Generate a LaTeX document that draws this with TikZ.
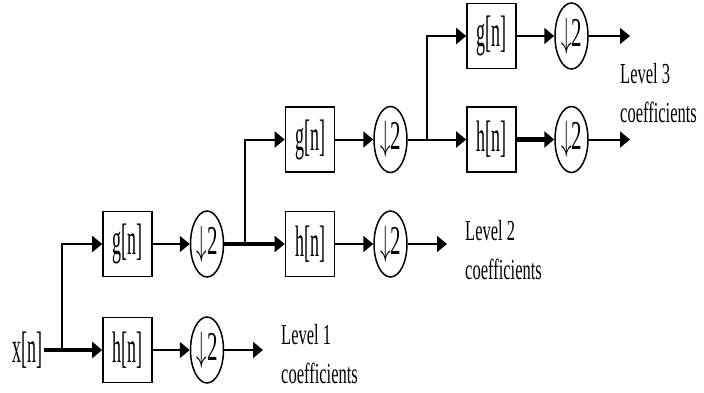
\documentclass[tikz,border=0pt]{standalone}
\usepackage{fontspec}
\setmainfont{Liberation Serif}
\usepackage{graphicx}
\usetikzlibrary{arrows.meta,shapes.geometric}
\newcommand{\bt}[1]{\scalebox{1.8}[4.4]{\fontsize{10}{12}\selectfont #1}}
\newcommand{\dt}{\scalebox{2.1}[4.1]{\fontsize{10}{12}\selectfont $\downarrow$2}}
\newcommand{\lt}[1]{\scalebox{1.65}[2.9]{\fontsize{10}{13.5}\selectfont\begin{tabular}[t]{@{}l@{}}#1\end{tabular}}}
\begin{document}
\begin{tikzpicture}[x=1pt,y=-1pt,
  filt/.style={draw,line width=1.6pt,minimum width=49pt,minimum height=65pt,inner sep=0pt},
  down/.style={draw,ellipse,line width=1.5pt,minimum width=33pt,minimum height=66pt,inner sep=0pt},
  ln/.style={line width=2pt},
  thk/.style={line width=4.5pt},
  arr/.style={-{Triangle[length=10pt,width=16pt]}},
  lbl/.style={anchor=base west,inner sep=0pt}]
\useasboundingbox (0,0) rectangle (704,392);
% level 1
\node[anchor=east,inner sep=1pt] (x) at (44,350) {\bt{x[n]}};
\node[filt] (g1) at (127.5,244) {\bt{g[n]}};
\node[filt] (h1) at (127.5,350) {\bt{h[n]}};
\node[down] (d1g) at (207,244) {\dt};
\node[down] (d1h) at (207,350) {\dt};
\coordinate (b1) at (62,350);
\coordinate (e1) at (263,350);
\node[lbl] (L1) at (281,344) {\lt{Level 1\\coefficients}};
% level 2
\node[filt] (g2) at (310,139.5) {\bt{g[n]}};
\node[filt] (h2) at (310,244) {\bt{h[n]}};
\node[down] (d2g) at (390.5,139.5) {\dt};
\node[down] (d2h) at (390.5,244) {\dt};
\coordinate (b2) at (245,244);
\coordinate (e2) at (447,244);
\node[lbl] (L2) at (465,240) {\lt{Level 2\\coefficients}};
% level 3
\node[filt] (g3) at (491.5,36) {\bt{g[n]}};
\node[filt] (h3) at (491.5,139.5) {\bt{h[n]}};
\node[down] (d3g) at (571.5,36) {\dt};
\node[down] (d3h) at (571.5,139.5) {\dt};
\coordinate (b3) at (427,139.5);
\coordinate (e3g) at (630,36);
\coordinate (e3h) at (630,139.5);
\node[lbl] (L3) at (620,83) {\lt{Level 3\\coefficients}};
% connectors level 1
\draw[thk] (x.east) -- (b1);
\draw[thk,arr] (b1) -- (h1.west);
\draw[ln,arr] (b1) |- (g1.west);
\draw[ln,arr] (g1.east) -- (d1g.west);
\draw[ln,arr] (h1.east) -- (d1h.west);
\draw[ln,arr] (d1h.east) -- (e1);
% connectors level 2
\draw[thk] (d1g.east) -- (b2);
\draw[thk,arr] (b2) -- (h2.west);
\draw[ln,arr] (b2) |- (g2.west);
\draw[ln,arr] (g2.east) -- (d2g.west);
\draw[ln,arr] (h2.east) -- (d2h.west);
\draw[ln,arr] (d2h.east) -- (e2);
% connectors level 3
\draw[ln] (d2g.east) -- (b3);
\draw[ln,arr] (b3) -- (h3.west);
\draw[ln,arr] (b3) |- (g3.west);
\draw[ln,arr] (g3.east) -- (d3g.west);
\draw[thk,arr] (h3.east) -- (d3h.west);
\draw[ln,arr] (d3g.east) -- (e3g);
\draw[ln,arr] (d3h.east) -- (e3h);
\end{tikzpicture}
\end{document}
